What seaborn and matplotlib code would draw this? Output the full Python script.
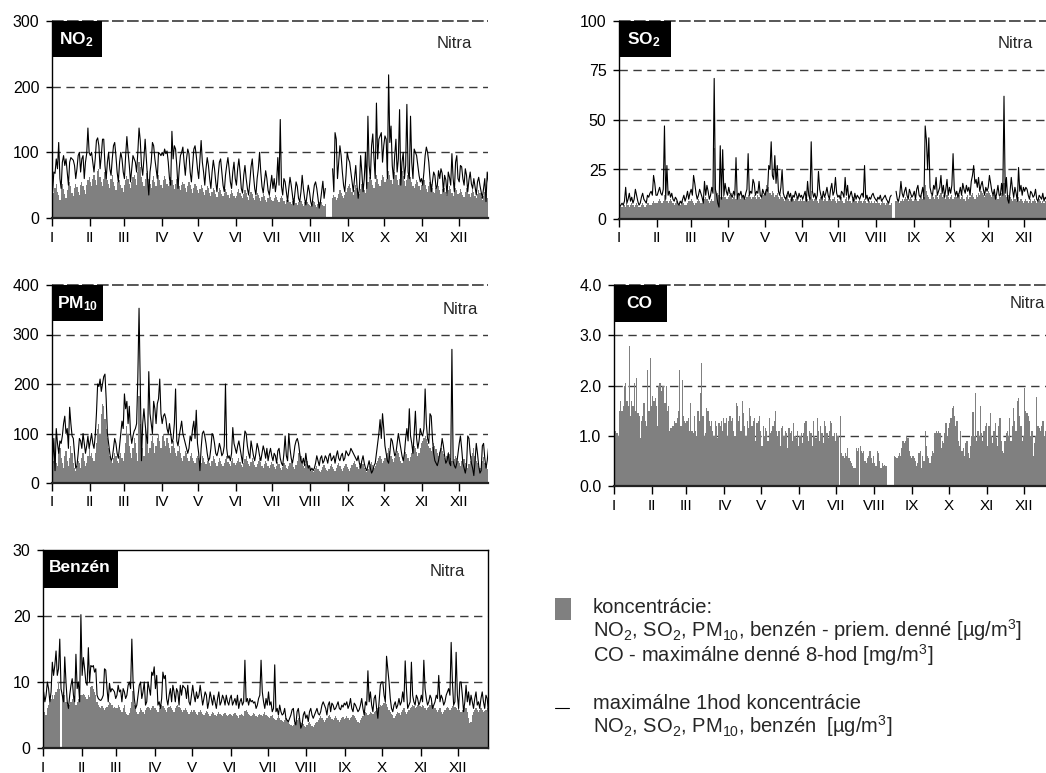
import numpy as np
import pandas as pd
import matplotlib
matplotlib.use("Agg")
import matplotlib.pyplot as plt
from matplotlib.patches import Rectangle
from matplotlib.lines import Line2D
import seaborn as sns

sns.set_style("white")
plt.rcParams['font.family'] = ['Liberation Sans', 'DejaVu Sans']
plt.rcParams['mathtext.fontset'] = 'custom'
plt.rcParams['mathtext.rm'] = 'Liberation Sans'
plt.rcParams['mathtext.it'] = 'Liberation Sans:italic'
plt.rcParams['mathtext.bf'] = 'Liberation Sans:bold'

N = None
month_days = [31, 28, 31, 30, 31, 30, 31, 31, 30, 31, 30, 31]
month_labels = ['I', 'II', 'III', 'IV', 'V', 'VI', 'VII', 'VIII', 'IX', 'X', 'XI', 'XII']

# ---------------- NO2 ----------------
no2_mean = [
    [30,38,45,52,40,35,28,48,52,44,36,30,42,50,55,48,38,33,45,52,47,40,35,50,55,48,42,36,50,58,62],
    [55,48,60,66,58,50,72,75,62,55,48,60,70,68,58,52,45,60,65,55,48,42,55,62,58,50,46,40],
    [50,58,64,60,52,45,55,62,66,60,50,70,85,78,62,55,48,60,68,72,60,52,45,58,64,55,48,60,66,58,50],
    [45,58,64,60,52,48,55,62,58,50,44,52,60,56,48,42,50,55,52,45,40,48,55,50,44,38,46,52,48,42],
    [38,44,50,46,40,35,42,48,45,38,34,40,46,42,36,32,40,45,42,36,33,38,44,40,35,30,36,42,38,33,30],
    [34,40,44,38,33,30,36,42,38,32,28,35,40,36,30,27,33,38,35,30,26,32,37,33,28,25,30,35,32,28],
    [26,30,35,32,28,24,30,34,30,26,22,28,32,28,24,21,26,30,27,23,20,25,28,26,22,19,24,27,25,21,20],
    [18,22,26,24,20,17,21,25,28,24,20,18,22,N,N,N,N,N,30,35,32,28,30,36,42,38,33,30,35,40,45],
    [48,52,45,40,35,42,50,46,40,36,44,52,48,42,38,45,55,62,68,58,50,45,55,65,60,52,48,58,66,62],
    [55,60,70,72,65,58,52,62,70,66,58,50,60,68,72,64,56,48,58,66,72,62,55,48,45,52,58,55,48,42,50],
    [55,58,50,44,40,48,55,52,45,40,38,46,52,48,42,36,44,50,46,40,35,42,48,44,38,34,40,46,42,36],
    [38,44,40,35,32,40,46,42,36,32,38,44,40,34,30,36,42,38,32,28,34,40,36,30,27,32,38,34,28,25,30],
]
no2_max = [
    [40,70,68,90,75,115,60,45,85,95,80,90,70,50,85,92,90,88,80,60,75,95,100,70,90,95,60,85,98,137,100],
    [95,100,85,70,90,118,122,110,75,95,120,120,80,60,85,100,75,65,90,110,115,95,70,55,85,100,90,70],
    [60,95,124,100,80,55,75,95,90,85,70,100,137,118,80,65,90,120,90,60,35,70,85,115,110,90,75,60,100,98,95],
    [100,95,105,98,102,85,60,50,132,90,110,105,80,45,75,95,100,108,85,65,90,105,98,70,55,80,105,110,95,75],
    [60,90,118,85,70,50,75,92,80,60,45,70,88,75,55,40,65,85,90,70,50,40,65,80,92,75,55,45,70,85,60],
    [50,75,90,70,45,38,65,80,60,45,35,55,78,90,65,45,35,60,75,100,70,48,38,55,72,60,42,35,50,65],
    [45,60,40,55,92,50,150,48,35,60,55,40,25,45,62,50,35,20,38,55,48,30,25,40,65,45,30,20,35,50,40],
    [25,18,35,50,55,45,30,15,25,40,56,30,45,N,N,N,N,N,75,40,130,120,60,85,110,95,70,50,40,65,100],
    [90,85,70,55,40,60,80,50,30,45,95,70,40,60,100,45,155,80,60,110,128,90,60,175,90,120,125,130,85,110],
    [125,120,60,218,115,140,80,60,95,120,70,90,165,50,85,100,60,80,173,70,60,155,85,60,105,100,95,80,65,55,60],
    [50,70,95,108,100,85,60,40,55,70,65,45,50,72,60,75,68,40,65,58,35,70,62,50,98,60,40,85,95,60],
    [55,80,78,60,50,75,65,40,58,70,52,45,60,48,35,55,62,50,40,30,45,60,25,70,55,35,20,45,55,50,20],
]

# ---------------- SO2 ----------------
so2_mean = [
    [5,6,6,7,7,6,8,7,6,7,8,7,6,7,8,7,6,6,7,8,7,6,7,8,8,7,7,8,9,8,8],
    [8,9,10,9,8,9,12,10,9,8,9,10,9,8,7,8,9,8,7,7,8,9,8,7,7,8,9,9],
    [10,9,8,7,8,9,10,9,8,8,9,10,11,10,9,8,9,10,9,36,14,12,13,12,11,10,11,12,11,10,10],
    [11,12,13,10,11,12,10,11,13,12,10,11,12,11,10,11,12,13,11,10,11,12,11,10,12,11,10,11,13,12],
    [14,17,15,16,13,12,14,13,11,12,13,11,10,12,11,10,9,11,12,10,9,10,11,10,9,10,11,10,9,10,9],
    [10,9,11,12,10,9,11,14,10,9,10,11,9,8,10,11,10,9,10,11,9,10,11,10,9,10,11,9,8,10],
    [9,10,11,9,8,10,11,9,10,9,8,10,11,10,9,8,9,10,9,8,9,10,9,8,9,9,8,9,8,9,8],
    [8,9,8,7,8,9,8,7,8,9,8,7,8,N,N,N,9,10,9,8,9,10,9,10,11,10,9,10,11,10,9],
    [10,11,10,9,10,11,12,10,11,17,14,12,11,10,12,13,11,10,12,11,10,12,13,11,12,11,10,12,11,10],
    [11,12,10,11,12,11,13,12,10,11,12,10,9,11,12,10,11,12,13,11,10,12,11,13,12,14,13,12,11,12,13],
    [14,13,12,11,12,13,12,11,10,12,11,13,12,18,12,11,10,12,11,10,9,11,10,9,10,11,9,10,9,8],
    [9,10,9,8,9,10,8,9,10,9,8,9,10,9,8,9,8,9,8,7,9,8,9,8,7,8,9,8,7,8,8],
]
so2_max = [
    [6,7,8,7,9,16,8,10,13,9,11,8,10,15,12,9,7,8,11,13,10,9,8,12,11,13,14,12,22,18,12],
    [12,14,16,13,12,15,47,10,27,12,14,11,13,10,9,11,10,8,7,9,8,10,12,9,11,14,10,13],
    [15,12,22,18,13,10,12,15,13,11,8,19,12,17,14,10,12,16,13,71,15,12,8,6,37,10,35,12,18,14,12],
    [16,13,12,11,14,12,31,10,13,12,14,11,12,10,13,15,33,12,14,13,20,18,12,14,13,19,12,11,15,13],
    [12,15,14,27,25,39,22,20,32,18,27,14,12,16,25,13,11,10,12,14,11,13,9,12,11,14,12,10,13,11,12],
    [10,12,14,9,19,12,10,39,14,11,13,10,12,24,15,12,10,14,11,13,16,12,10,15,18,12,14,21,13,11],
    [12,10,14,13,11,21,12,17,10,12,14,11,9,13,10,12,11,10,12,13,11,27,10,12,9,11,10,12,13,11,10],
    [9,11,10,12,9,10,11,12,10,9,8,11,12,N,N,N,14,10,9,12,19,13,11,14,16,12,10,15,13,11,12],
    [14,10,15,17,12,11,13,16,10,47,40,25,41,16,13,12,17,15,21,12,14,16,22,13,17,11,15,20,12,16],
    [13,17,33,15,12,14,11,13,16,12,18,15,13,17,14,16,12,19,22,27,18,20,16,21,14,17,19,15,12,16,14],
    [16,22,18,14,12,15,10,13,17,12,12,18,12,62,13,21,10,8,14,21,15,11,16,13,9,26,14,17,12,16],
    [14,16,15,12,10,14,13,11,12,15,10,9,12,11,10,13,9,11,10,12,9,10,11,9,10,12,9,10,11,9,10],
]

# ---------------- PM10 ----------------
pm10_mean = [
    [30,45,55,40,35,60,70,50,40,30,55,65,45,35,50,75,60,40,30,25,35,45,40,30,50,60,45,35,40,55,70],
    [55,60,50,45,60,80,110,120,100,140,160,155,130,110,90,70,55,45,40,50,60,55,45,40,55,60,50,45],
    [60,80,115,100,75,60,50,70,90,80,60,45,175,120,90,70,55,110,100,80,60,70,85,95,80,60,75,90,100,85,70],
    [95,100,85,75,90,80,70,60,75,85,70,60,55,65,75,60,50,45,55,65,60,50,45,55,60,50,45,40,50,55],
    [50,45,40,55,50,42,38,45,50,40,35,45,55,48,40,35,42,50,45,38,35,40,48,55,42,38,35,45,50,40,36],
    [40,45,50,42,36,32,40,48,55,45,38,35,42,50,44,36,32,38,45,50,42,35,30,38,44,40,34,30,36,42],
    [38,32,28,35,42,38,30,26,32,40,36,30,28,35,40,45,38,32,28,36,45,60,65,55,42,35,30,38,44,36,30],
    [28,24,22,26,30,35,28,24,22,26,32,36,30,26,24,28,34,38,32,28,25,30,36,40,34,28,24,30,35,38,32],
    [28,25,30,36,40,45,38,32,28,34,40,44,38,30,26,22,28,34,38,42,36,30,35,40,45,50,55,48,40,45],
    [50,55,60,70,65,55,48,42,50,58,65,60,52,45,40,48,56,62,58,50,45,52,60,68,75,70,62,55,60,70,80],
    [85,90,95,88,80,75,70,65,72,80,75,68,60,55,62,70,65,58,50,45,55,62,58,50,45,40,48,55,50,45],
    [40,35,45,52,48,40,35,30,38,45,55,60,70,55,45,40,35,30,38,45,52,40,35,28,32,40,35,30,28,35,30],
]
pm10_max = [
    [40,90,25,110,80,60,85,80,95,120,135,100,110,70,153,120,95,90,60,30,35,60,90,85,70,100,80,60,75,95,70],
    [85,100,80,70,95,140,200,195,210,185,200,215,220,170,100,80,60,45,50,70,90,80,60,50,75,100,125,110],
    [180,150,165,120,155,100,80,95,105,110,120,213,353,200,45,120,150,120,95,80,225,140,120,100,165,150,120,160,170,210,140],
    [120,135,140,130,110,100,120,100,80,90,120,190,85,75,95,110,125,100,90,80,70,60,70,95,85,110,125,90,147,80],
    [60,25,70,100,105,95,80,60,45,50,70,100,95,80,60,55,65,80,70,55,60,75,200,70,50,55,45,60,112,80,70],
    [60,75,85,70,55,40,80,105,100,75,60,50,85,70,55,45,60,80,70,55,45,60,75,65,50,70,45,60,70,55],
    [45,60,55,40,65,70,50,40,35,60,95,55,45,100,70,50,40,55,75,85,90,80,60,45,40,50,35,60,40,30,35],
    [25,30,25,30,40,55,45,35,50,55,40,45,55,50,40,55,60,45,50,55,40,55,65,50,45,55,60,45,50,65,60],
    [55,60,70,65,60,55,50,45,55,40,30,45,55,40,30,25,35,45,30,20,25,35,40,60,80,100,128,90,140,110],
    [75,60,45,40,60,90,85,70,55,60,80,100,85,70,55,45,60,90,110,85,150,95,80,60,100,145,90,70,85,110,100],
    [95,110,190,120,90,80,140,135,90,60,45,40,35,45,60,70,90,75,55,40,45,60,40,35,270,45,35,30,40,60],
    [80,95,70,40,30,20,35,95,90,60,40,30,15,45,80,60,35,20,25,75,80,50,30,45,70,60,40,35,45,40,35],
]

# ---------------- CO (max daily 8-h, mg/m3) ----------------
co_max8h = [
    [1.2,1.1,1.05,1.0,1.5,1.7,1.5,1.6,2.0,2.05,1.7,1.6,2.78,1.4,1.7,1.6,2.05,1.5,2.15,1.45,1.4,0.95,1.3,1.4,1.65,1.3,1.2,2.3,1.5,2.55,1.6],
    [1.8,1.7,1.75,1.6,1.2,2.0,2.05,1.9,2.0,2.0,1.65,2.0,1.5,1.6,1.1,1.15,1.2,1.2,1.3,1.25,1.35,1.5,2.3,1.2,2.1,1.4,1.3,1.25],
    [1.3,1.35,1.1,1.65,1.1,1.05,1.4,1.1,1.0,1.5,1.3,1.85,2.45,1.4,1.0,1.05,1.55,1.5,1.3,1.2,1.3,1.1,1.0,1.3,1.2,0.95,1.25,1.2,1.3,1.1,1.35],
    [1.25,1.35,1.0,1.3,1.4,1.3,1.35,1.1,1.0,1.65,1.6,1.3,1.4,1.1,1.7,1.45,1.2,1.0,1.3,1.15,1.55,1.4,1.2,1.3,1.35,0.9,1.25,1.3,1.4,1.1],
    [0.8,1.2,1.0,1.15,1.1,0.9,1.35,1.05,1.1,1.2,1.3,1.5,1.1,1.0,1.1,0.8,1.15,1.2,1.0,1.1,1.05,0.75,1.15,1.05,1.1,0.9,1.25,1.0,0.95,1.1,0.8],
    [1.0,1.05,0.85,1.05,1.25,1.3,1.0,0.9,1.1,1.05,0.8,1.3,1.0,0.95,1.35,1.1,0.9,1.2,1.05,0.85,1.3,1.2,1.05,0.95,1.1,1.3,1.25,1.0,1.05,0.9],
    [1.05,1.0,N,1.4,0.65,0.6,0.55,0.65,0.6,0.75,0.55,0.5,0.45,0.4,0.35,0.35,0.75,0.7,0.75,0.8,0.7,0.65,0.7,0.5,0.45,0.55,0.6,0.7,0.55,0.45,0.6],
    [0.45,0.4,0.7,0.65,0.5,0.35,0.45,0.4,0.42,0.4,N,N,N,N,N,N,0.6,0.58,0.55,0.6,0.65,0.6,0.75,0.9,0.85,0.9,1.0,0.95,0.7,0.6,0.55],
    [0.6,0.55,0.5,0.4,0.45,0.65,0.7,0.35,0.6,0.5,1.1,0.8,0.6,0.55,0.45,0.6,0.7,0.65,1.05,1.1,1.05,1.1,1.05,0.75,0.9,0.85,1.05,1.25,1.0,1.15],
    [1.25,1.35,1.55,1.6,1.4,1.2,1.3,0.9,0.8,1.1,0.7,0.75,0.6,0.85,0.9,0.65,0.55,0.8,1.0,1.47,1.0,1.85,0.9,1.1,1.0,1.6,1.05,0.9,1.1,1.2,1.25],
    [0.8,1.2,1.45,1.0,0.85,1.1,1.25,0.95,0.8,1.2,1.35,0.9,0.7,0.65,0.9,1.05,1.1,1.0,1.35,0.9,1.2,1.55,1.3,1.1,1.7,1.75,1.4,1.2,0.9,1.0],
    [1.95,1.5,1.45,1.4,1.3,1.0,1.1,0.6,0.85,1.0,1.78,1.2,1.15,1.1,1.2,1.3,1.0,1.1,1.2,1.0,0.9,1.1,1.0,1.2,1.3,1.1,1.0,1.2,1.4,1.3,1.1],
]

# ---------------- Benzen ----------------
benz_mean = [
    [6,5.5,5,6,6.5,7,7.5,8,7.5,8,8.5,9,10,9,N,8,8.5,8,7,6.5,6,6.5,7,7.5,8,7,6.5,7,7.5,8,8],
    [8,8.2,8,7.8,7.5,8,7.8,9.2,9.4,9,8.5,8,7,6.5,6.2,6,6.3,6,5.8,6,6.2,6.5,7,6.8,6.5,6,6.2,6],
    [6,6.5,6.2,5.8,5.5,6,6.5,5.5,5.2,5,5.3,6,7,8.7,6.5,6,5.5,5.2,5.5,6,5.8,5.5,5.2,5.8,6,6.2,6,5.8,6,6.3,6.1],
    [6,5.8,5.5,6,6.2,6.5,6.3,6,5.8,5.5,6,6.2,6.4,6,5.8,5.5,6,6.3,6.5,6.2,6,5.8,5.5,5.8,6,5.7,5.5,5.2,5.5,5.8],
    [5.5,5.8,5.5,5.2,5,5.4,5.8,5.5,5.2,5,5.3,5.6,5.4,5.1,4.9,5.2,5.5,5.3,5,4.8,5.1,5.4,5.2,5,4.8,5.1,5.3,5,4.8,5,5.2],
    [5,4.8,5.1,5.3,5,4.8,4.6,5,5.2,5,4.8,5.6,5.8,5.5,5.2,5,4.8,5,5.3,5.1,4.9,4.7,5,5.2,5,4.8,5.2,5.5,5,4.8],
    [4.7,4.5,4.8,5,4.6,4.4,4.2,4.5,4.8,4.6,4.3,4.1,4,4.3,4.5,4.2,3.9,3.7,3.5,3.3,3.5,3.8,4,4.2,4.5,4.3,4,3.8,3.6,3.4,3.2],
    [3.5,3.8,4,3.7,3.4,3.2,3.5,3.8,4,4.2,4.5,4.8,4.5,4.2,4,4.3,4.6,4.8,5,4.7,4.4,4.2,4.5,4.8,4.6,4.3,4,4.3,4.5,4.7,4.4],
    [4.5,4.8,4.6,4.3,4.5,4.7,5,4.8,4.5,4.2,4,3.8,4.2,4.5,4.8,5.2,5.5,5.3,5,5.2,5.5,5.3,5.1,5.4,5.6,5.8,6,6.2,6.5,6.3],
    [6.5,6.8,7,6.7,6.2,5.8,5.5,5.2,5,4.6,4.8,5.2,5.5,5.3,5,5.4,5.8,6,5.5,5.2,5.5,5.8,6,6.2,6.5,6.3,6,6.2,6.5,6.7,6.4],
    [6.2,6.5,6.3,6,5.8,6,6.2,6.5,6.8,6.5,6.2,6,5.7,5.5,5.8,6,5.5,5.2,5.5,5.8,6,6.2,6,5.8,6,6.3,6.5,6.2,6,5.8],
    [6,5.8,5.5,5.8,6,6.2,6,5.5,4.5,3.8,4,5,5.5,5.8,6,5.7,5.5,5.8,6,5.8,5.5,5.6,5.8,6,5.7,5.5,5.8,6,5.6,5.4,5.2],
]
benz_max = [
    [8.5,7,8,10,9,7,8.5,13,11,12.5,14.7,11,12,16.5,9,8,7,13.8,10,7,6,8,9.5,10.5,8,7,14.2,9,10,7,20.2],
    [11,13.7,12,10,9.5,15.2,10,12.5,12.3,12.5,11.5,12,8,7.5,7.3,7.2,7.5,8,12,11.8,9,7,9.8,8.5,9,8.8,8.5,7.5],
    [8,9.5,8.5,8.8,7,9,8.5,7.5,8,9.5,10,9,16.5,10,7.5,6,6.5,8,9.5,10,7.5,8.5,10,6.5,7,10,9,8,11.5,11,12.3],
    [9,11,6.5,7,6,7.5,11.5,10.5,11,7.5,6.5,8,9,7,9.5,8.5,7,9,8.5,6.5,9.5,8,9.5,9.2,9,7.5,9.5,7,6.5,8],
    [9.5,8,7,8.5,7.5,8,9.5,8,6.5,7.5,8.5,8,6,7,8.5,7.5,6.5,8,7,6,7.5,8.5,6.5,7,8,7.5,6.5,8,7,6.5,7.5],
    [8,6.5,7,7.5,6.5,8,6,7,7.5,6.5,7,13.3,7,7.5,6.5,7.5,7,7.2,6.8,7,6,6.5,7.5,8,13.3,8.5,7,6,7.5,6.5],
    [8.5,6.5,7,5.5,6,12.6,5.5,6,5,6.5,5.5,5,5.2,6,4.5,4.2,4,4.5,5,5.8,6,4,3.5,5.5,6,4.5,3,3.5,5,5.5,4.5],
    [5,4,5.5,6,5,4.5,5,5.5,6,5.2,5,5.5,6.5,7,6.5,6,5,6.5,7,5.5,6.8,6.5,5.8,6,6.5,7,6,5.8,6.5,6.2,6.8],
    [6.5,7,6,6.5,7.5,6,5.5,6.8,6.5,6,5.5,5.8,6.5,7.5,6,5,7,6.5,11.7,7,8.5,6.5,5.5,7.5,8,6,4.5,7,9.5,10],
    [10,8,7,13.9,12,10,7.5,6,5.5,6.5,7,6,6.5,7.5,6.5,7,8.5,7,13.2,9,6,6.5,7,13,8,7,6.5,8,7.5,6.5,7],
    [8,7,13.3,9,7.5,6.5,7,8,7.5,6,6.5,7,8,7.5,11,7,8,7.5,6.5,7,8,8.5,9,8,16,10,6.5,7,14.5,8],
    [6,10,10,8,5.5,7,9.5,7,8.5,6.5,8,7,6,7.5,8.5,6.5,7,6,7.5,8.5,7,6,8,7.5,5.5,7,8.5,6,7.5,8,5.5],
]

legend_bar_lines = [
    'koncentrácie:',
    'NO$_2$, SO$_2$, PM$_{10}$, benzén - priem. denné [µg/m$^3$]',
    'CO - maximálne denné 8-hod [mg/m$^3$]',
]
legend_line_lines = [
    'maximálne 1hod koncentrácie',
    'NO$_2$, SO$_2$, PM$_{10}$, benzén  [µg/m$^3$]',
]


def flatten(name, months):
    out = []
    for i, m in enumerate(months):
        if len(m) != month_days[i]:
            raise ValueError(f"{name}: month {i+1} has {len(m)} values, expected {month_days[i]}")
        out.extend(np.nan if v is None else v for v in m)
    return np.array(out, dtype=float)


W, H = 1046, 773
XMAX = 358.0
BAR = '#808080'
GRID = '#3a3a3a'
DASH = (0, (6, 4))
month_starts = np.cumsum([0] + month_days[:-1])
days = np.arange(365) + 0.5

fig = plt.figure(figsize=(W / 100, H / 100), dpi=100)
fig.patch.set_facecolor('white')


def px_axes(left, top, bottom, scale):
    width = XMAX * scale
    return fig.add_axes([left / W, 1 - bottom / H, width / W, (bottom - top) / H])


def draw_panel(ax, mean, maxv, ylim, yticks, fmt, boxed=False):
    df = pd.DataFrame({'day': days, 'mean': mean,
                       'max': maxv if maxv is not None else np.nan})
    bars = df.dropna(subset=['mean'])
    sns.barplot(data=bars, x='day', y='mean', native_scale=True, width=1.0,
                color=BAR, saturation=1, linewidth=0, errorbar=None, ax=ax, zorder=2)
    if maxv is not None:
        valid = ~np.isnan(df['max'].values)
        starts = np.where(valid & ~np.r_[False, valid[:-1]])[0]
        for s in starts:
            e = s
            while e < len(df) and valid[e]:
                e += 1
            seg = df.iloc[s:e]
            sns.lineplot(data=seg, x='day', y='max', color='black', linewidth=0.8,
                         estimator=None, sort=False, ax=ax, zorder=3)
    ax.set_xlim(0, XMAX)
    ax.set_ylim(*ylim)
    ax.set_xticks(month_starts)
    ax.set_xticklabels(month_labels)
    ax.set_yticks(yticks)
    ax.set_yticklabels([fmt.format(v) for v in yticks])
    ax.set_xlabel('')
    ax.set_ylabel('')
    for y in yticks[1:-1]:
        ax.axhline(y, color=GRID, lw=1.0, ls=DASH, zorder=1)
    ax.spines['left'].set_color('black')
    ax.spines['left'].set_linewidth(1.0)
    ax.spines['bottom'].set_color('#222222')
    ax.spines['bottom'].set_linewidth(1.6)
    if boxed:
        for s in ('top', 'right'):
            ax.spines[s].set_visible(True)
            ax.spines[s].set_color('black')
            ax.spines[s].set_linewidth(1.0)
    else:
        ax.spines['top'].set_visible(False)
        ax.spines['right'].set_visible(False)
        ax.axhline(ylim[1], color=GRID, lw=1.2, ls=(0, (7, 2)), zorder=1, clip_on=False)
    ax.tick_params(axis='x', direction='out', length=6, width=1, pad=3,
                   labelsize=11, colors='black', bottom=True)
    ax.tick_params(axis='y', direction='out', length=4, width=1, pad=5,
                   labelsize=11.5, colors='black', left=True)
    ax.set_facecolor('white')
    leg = ax.get_legend()
    if leg is not None:
        leg.remove()


def label_box(x0, y0, x1, y1, text, tx, ty):
    fig.add_artist(Rectangle((x0 / W, 1 - y1 / H), (x1 - x0) / W, (y1 - y0) / H,
                             transform=fig.transFigure, facecolor='black',
                             edgecolor='none', zorder=5))
    fig.text(tx / W, 1 - ty / H, text, color='white', fontsize=12.5,
             fontweight='bold', ha='left', va='center', zorder=6)


def nitra(x, y):
    fig.text(x / W, 1 - y / H, 'Nitra', fontsize=12, ha='left', va='center', zorder=6)


# NO2
ax1 = px_axes(52, 21, 218, 1.2174)
draw_panel(ax1, flatten('no2_mean', no2_mean), flatten('no2_max', no2_max),
           (0, 300), [0, 100, 200, 300], '{:.0f}')
label_box(52, 21, 102, 57, r'$\mathbf{NO_2}$', 59, 40)
nitra(437, 43)

# SO2
ax2 = px_axes(619, 21, 219, 1.2126)
draw_panel(ax2, flatten('so2_mean', so2_mean), flatten('so2_max', so2_max),
           (0, 100), [0, 25, 50, 75, 100], '{:.0f}')
label_box(619, 21, 671, 57, r'$\mathbf{SO_2}$', 627, 40)
nitra(998, 43)

# PM10
ax3 = px_axes(52, 285, 483, 1.2174)
draw_panel(ax3, flatten('pm10_mean', pm10_mean), flatten('pm10_max', pm10_max),
           (0, 400), [0, 100, 200, 300, 400], '{:.0f}')
label_box(52, 285, 103, 321, r'$\mathbf{PM}_{\mathbf{10}}$', 57, 304)
nitra(443, 310)

# CO
ax4 = px_axes(614, 285, 486, 1.2275)
draw_panel(ax4, flatten('co_max8h', co_max8h), None,
           (0, 4), [0, 1, 2, 3, 4], '{:.1f}')
label_box(614, 285, 667, 322, 'CO', 626, 304)
nitra(1010, 303)

# Benzen
ax5 = px_axes(43, 550, 748, 1.2425)
draw_panel(ax5, flatten('benz_mean', benz_mean), flatten('benz_max', benz_max),
           (0, 30), [0, 10, 20, 30], '{:.0f}', boxed=True)
label_box(43, 550, 118, 588, 'Benzén', 49, 568)
nitra(430, 571)

# Legend
fig.add_artist(Rectangle((555 / W, 1 - 620 / H), 16 / W, 22 / H, transform=fig.transFigure,
                         facecolor=BAR, edgecolor='none'))
fig.add_artist(Line2D([555 / W, 569 / W], [1 - 708 / H, 1 - 708 / H], transform=fig.transFigure,
                      color='black', lw=0.8))
LFS = 14.5
fig.text(593 / W, 1 - 598 / H, '\n'.join(legend_bar_lines), fontsize=LFS,
         ha='left', va='top', linespacing=0.98)
fig.text(593 / W, 1 - 694 / H, '\n'.join(legend_line_lines), fontsize=LFS,
         ha='left', va='top', linespacing=0.98)

fig.savefig('out.png', dpi=100, facecolor='white')
